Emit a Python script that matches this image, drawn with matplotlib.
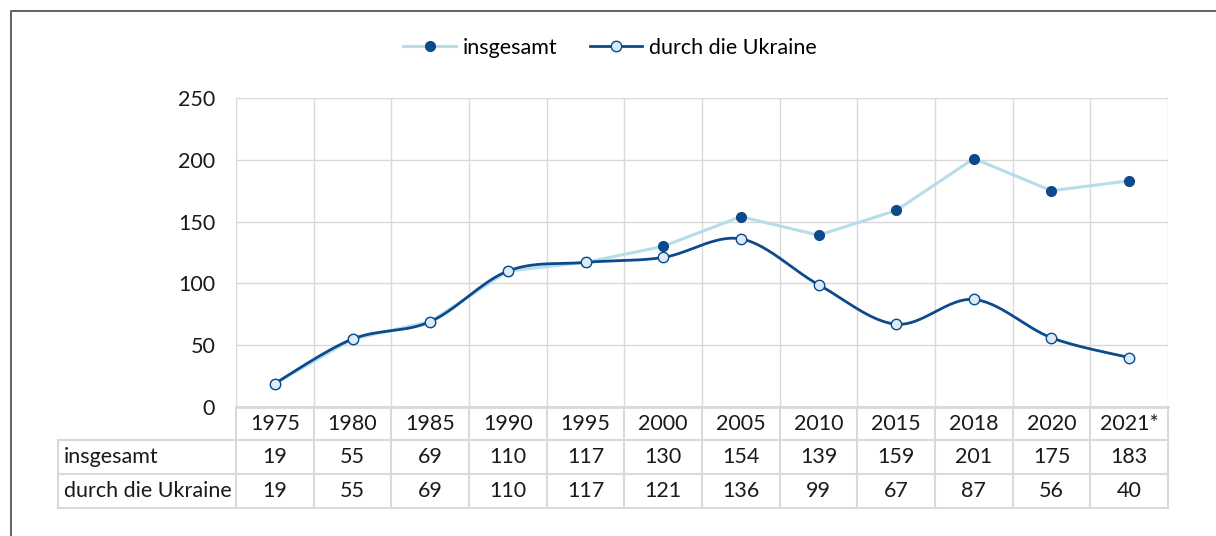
import numpy as np
import matplotlib.pyplot as plt
from matplotlib.lines import Line2D

plt.rcParams['font.family'] = ['Lato', 'DejaVu Sans']

years = ["1975", "1980", "1985", "1990", "1995", "2000", "2005", "2010",
         "2015", "2018", "2020", "2021*"]
insgesamt = [19, 55, 69, 110, 117, 130, 154, 139, 159, 201, 175, 183]
ukraine = [19, 55, 69, 110, 117, 121, 136, 99, 67, 87, 56, 40]

dark = "#0b4a8b"
light = "#b7dcea"
open_fill = "#dcebf5"
grid_c = "#d9d9d9"
fs = 15.5

W, H = 1216, 536
fig = plt.figure(figsize=(W / 100, H / 100), dpi=100)

# plot area in pixels
left, right, top, bottom = 236, 1168, 98, 407
ax = fig.add_axes([left / W, 1 - bottom / H, (right - left) / W, (bottom - top) / H])


def smooth(y, n=30):
    # Catmull-Rom style bezier, like the "smoothed line" option in Excel
    x = np.arange(len(y), dtype=float)
    y = np.asarray(y, dtype=float)
    pts = np.column_stack([x, y])
    pad = np.vstack([pts[0], pts, pts[-1]])
    out = []
    t = np.linspace(0, 1, n)[:, None]
    for i in range(len(pts) - 1):
        p0, p1, p2, p3 = pad[i], pad[i + 1], pad[i + 2], pad[i + 3]
        c1 = p1 + (p2 - p0) / 6
        c2 = p2 - (p3 - p1) / 6
        seg = ((1 - t) ** 3) * p1 + 3 * ((1 - t) ** 2) * t * c1 + 3 * (1 - t) * t ** 2 * c2 + t ** 3 * p2
        out.append(seg)
    out = np.vstack(out)
    return out[:, 0], out[:, 1]


xi = np.arange(len(years))

ax.plot(xi, insgesamt, color=light, lw=2.2, zorder=3)
ax.plot(xi, insgesamt, ls="none", marker="o", ms=7, mfc=dark, mec=dark, zorder=4)
sx, sy = smooth(ukraine)
ax.plot(sx, sy, color=dark, lw=2.0, zorder=5)
ax.plot(xi, ukraine, ls="none", marker="o", ms=7.5, mfc=open_fill, mec=dark, mew=1.0, zorder=6)

ax.set_xlim(-0.5, len(years) - 0.5)
ax.set_ylim(0, 250)
ax.set_yticks([0, 50, 100, 150, 200, 250])
ax.set_xticks(np.arange(len(years) + 1) - 0.5)
ax.set_xticklabels([])
ax.tick_params(length=0, labelsize=fs, pad=15, labelcolor="#1a1a1a")
ax.grid(True, color=grid_c, lw=1.0)
ax.set_axisbelow(True)
for s in ["left", "right", "top"]:
    ax.spines[s].set_visible(False)
ax.spines["bottom"].set_color(grid_c)
ax.spines["bottom"].set_linewidth(2.0)


# data table under the plot
def fx(px):
    return px / W


def fy(py):
    return 1 - py / H


col_w = (right - left) / len(years)
row_y = [407, 440, 474, 508]
tbl_left = 58

for py in row_y[1:]:
    fig.add_artist(Line2D([fx(tbl_left), fx(right)], [fy(py), fy(py)], color=grid_c, lw=1.5))
for i in range(len(years) + 1):
    px = left + i * col_w
    fig.add_artist(Line2D([fx(px), fx(px)], [fy(407), fy(508)], color=grid_c, lw=1.5))
fig.add_artist(Line2D([fx(tbl_left), fx(tbl_left)], [fy(440), fy(508)], color=grid_c, lw=1.5))

rows = [("", years), ("insgesamt", insgesamt), ("durch die Ukraine", ukraine)]
for r, (label, vals) in enumerate(rows):
    cy = (row_y[r] + row_y[r + 1]) / 2
    if label:
        fig.text(fx(64), fy(cy), label, ha="left", va="center", fontsize=fs, color="#1a1a1a")
    for i, v in enumerate(vals):
        cx = left + (i + 0.5) * col_w
        fig.text(fx(cx), fy(cy), str(v), ha="center", va="center", fontsize=fs, color="#1a1a1a")

# legend
h1 = Line2D([], [], color=light, lw=2.2, marker="o", ms=7, mfc=dark, mec=dark)
h2 = Line2D([], [], color=dark, lw=2.0, marker="o", ms=7.5, mfc=open_fill, mec=dark)
fig.legend([h1, h2], ["insgesamt", "durch die Ukraine"], loc="center",
           bbox_to_anchor=(fx(610), fy(48)), ncol=2, frameon=False, fontsize=fs,
           handlelength=2.45, handletextpad=0.3, columnspacing=1.5)

# outer frame of the chart (cropped on right and bottom)
fig.add_artist(Line2D([fx(11), fx(11), fx(W + 5)], [fy(H + 5), fy(11), fy(11)],
                      color="#555555", lw=1.3))

fig.savefig("out.png", dpi=100)
